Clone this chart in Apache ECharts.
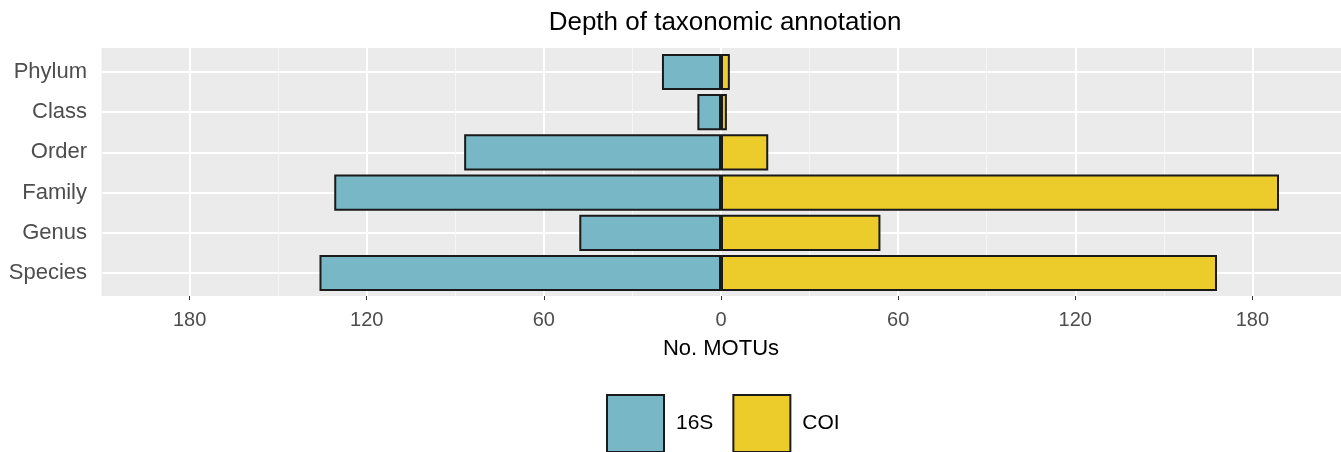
<!DOCTYPE html>
<html>
<head>
<meta charset="utf-8">
<script src="https://cdn.jsdelivr.net/npm/echarts@6/dist/echarts.min.js"></script>
<style>
    html, body { margin: 0; padding: 0; background: #ffffff; }
    #chart { width: 1341px; height: 452px; }
</style>
</head>
<body>
<div id="chart"></div>
<script>
// taxonomic levels, top to bottom
const categories = ['Phylum', 'Class', 'Order', 'Family', 'Genus', 'Species']
// No. of MOTUs per marker (16S drawn to the left)
const values16S = [20, 8, 87, 131, 48, 136]
const valuesCOI = [3, 2, 16, 189, 54, 168]
const majorTicks = [-180, -120, -60, 0, 60, 120, 180]

const FONT = 'Liberation Sans'
const X_MIN = -210
const X_MAX = 210

const chart = echarts.init(document.getElementById('chart'))

const option = {
    animation: false,
    textStyle: { fontFamily: FONT },
    title: {
        text: 'Depth of taxonomic annotation',
        left: 720,
        textAlign: 'center',
        top: 5,
        textStyle: { fontFamily: FONT, fontSize: 26, fontWeight: 'normal', color: '#000000' },
    },
    legend: {
        data: ['16S', 'COI'],
        left: 606,
        top: 394,
        padding: 0,
        icon: 'rect',
        itemWidth: 57,
        itemHeight: 57,
        itemGap: 19,
        textStyle: { fontFamily: FONT, fontSize: 21, color: '#000000', padding: [0, 0, 0, 7] },
    },
    grid: [
        // background panel
        { left: 101, right: 0, top: 48, height: 248, show: true, backgroundColor: '#ebebeb', borderWidth: 0 },
        // bars, category centres at grid edges
        { left: 101, right: 0, top: 72, height: 201 },
    ],
    xAxis: [
        {
            gridIndex: 0,
            type: 'value',
            min: X_MIN,
            max: X_MAX,
            interval: 30,
            axisLine: { show: false },
            axisTick: { show: true, customValues: majorTicks, length: 4, lineStyle: { color: '#333333', width: 1 } },
            axisLabel: {
                customValues: majorTicks,
                fontSize: 20,
                color: '#4d4d4d',
                margin: 14,
                formatter: v => String(Math.abs(v)),
            },
            splitLine: { show: true, lineStyle: { color: '#ffffff', width: 2 } },
            name: 'No. MOTUs',
            nameLocation: 'middle',
            nameGap: 42,
            nameTextStyle: { fontFamily: FONT, fontSize: 22, color: '#000000' },
        },
        {
            // minor grid lines
            gridIndex: 0,
            type: 'value',
            position: 'top',
            min: X_MIN,
            max: X_MAX,
            interval: 30,
            axisLine: { show: false },
            axisTick: { show: false },
            axisLabel: { show: false },
            splitLine: { show: true, lineStyle: { color: ['#f6f6f6', 'rgba(0,0,0,0)'], width: 1 } },
        },
        {
            gridIndex: 1,
            type: 'value',
            min: X_MIN,
            max: X_MAX,
            show: false,
        },
    ],
    yAxis: [
        { gridIndex: 0, type: 'value', show: false },
        {
            gridIndex: 1,
            type: 'category',
            data: categories,
            inverse: true,
            boundaryGap: false,
            axisLine: { show: false },
            axisTick: { show: true, length: 4, lineStyle: { color: '#333333', width: 1 } },
            axisLabel: { fontSize: 22, color: '#4d4d4d', margin: 14 },
            splitLine: { show: true, lineStyle: { color: '#ffffff', width: 2 } },
        },
    ],
    series: [
        {
            name: '16S',
            type: 'bar',
            xAxisIndex: 2,
            yAxisIndex: 1,
            stack: 'motus',
            barWidth: '90%',
            clip: false,
            data: values16S.map(v => -v),
            itemStyle: { color: '#78b7c5', borderColor: '#1a1a1a', borderWidth: 2 },
        },
        {
            name: 'COI',
            type: 'bar',
            xAxisIndex: 2,
            yAxisIndex: 1,
            stack: 'motus',
            barWidth: '90%',
            clip: false,
            data: valuesCOI,
            itemStyle: { color: '#ebcc2a', borderColor: '#1a1a1a', borderWidth: 2 },
        },
    ],
}

chart.setOption(option)
</script>
</body>
</html>
